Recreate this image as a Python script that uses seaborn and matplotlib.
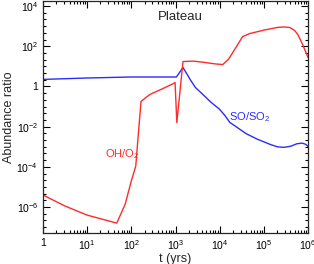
import numpy as np
import pandas as pd
import matplotlib
matplotlib.use("Agg")
import matplotlib.pyplot as plt
import matplotlib.ticker as mticker
import seaborn as sns

# SO/SO2 (blue) : log10(t) and log10(ratio)
so_logt = [0.0, 1.0, 2.0, 2.6, 3.02, 3.17, 3.25, 3.33, 3.45, 3.62, 3.8, 4.0, 4.12, 4.23, 4.39,
           4.6, 4.85, 5.14, 5.3, 5.45, 5.6, 5.75, 5.87, 5.95, 6.0]
so_logv = [0.35, 0.42, 0.47, 0.47, 0.47, 0.94, 0.65, 0.35, -0.05, -0.4, -0.78, -1.14, -1.45, -1.79, -2.03,
           -2.35, -2.62, -2.88, -3.0, -3.03, -2.98, -2.85, -2.82, -2.88, -2.98]

# OH/O2 (red)
oh_logt = [0.0, 0.5, 1.0, 1.67, 1.86, 2.0, 2.10, 2.15, 2.22, 2.42, 2.7, 2.96, 2.99, 3.03, 3.17,
           3.4, 3.64, 3.9, 4.07, 4.2, 4.34, 4.52, 4.68, 5.0, 5.29, 5.45, 5.59, 5.7, 5.77, 5.88, 6.0]
oh_logv = [-5.4, -5.95, -6.4, -6.8, -5.86, -4.7, -3.97, -2.6, -0.74, -0.4, -0.12, 0.15, 0.2, -1.8, 1.24,
           1.26, 1.2, 1.12, 1.09, 1.35, 1.84, 2.48, 2.63, 2.8, 2.93, 2.96, 2.93, 2.78, 2.58, 2.08, 1.44]

so = pd.DataFrame({"t": 10.0 ** np.array(so_logt), "r": 10.0 ** np.array(so_logv)})
oh = pd.DataFrame({"t": 10.0 ** np.array(oh_logt), "r": 10.0 ** np.array(oh_logv)})

sns.set_style("ticks")
plt.rcParams["font.family"] = ["Liberation Sans", "DejaVu Sans"]
plt.rcParams["mathtext.fontset"] = "custom"
plt.rcParams["mathtext.rm"] = "Liberation Sans"
plt.rcParams["mathtext.it"] = "Liberation Sans"

fig = plt.figure(figsize=(3.14, 2.64), dpi=100)
ax = fig.add_axes([43/314, 1 - 233/264, (308-43)/314, (233-1)/264])

sns.lineplot(data=so, x="t", y="r", ax=ax, color="#2b2bff", lw=1.0, sort=False, estimator=None)
sns.lineplot(data=oh, x="t", y="r", ax=ax, color="#ff2b2b", lw=1.0, sort=False, estimator=None)

ax.set_xscale("log")
ax.set_yscale("log")
ax.set_xlim(1, 1e6)
ax.set_ylim(10 ** -7.29, 10 ** 4.25)

xt = [1, 1e1, 1e2, 1e3, 1e4, 1e5, 1e6]
xl = ["1", "10$^1$", "10$^2$", "10$^3$", "10$^4$", "10$^5$", "10$^6$"]
yt = [1e-6, 1e-4, 1e-2, 1, 1e2, 1e4]
yl = ["10$^{-6}$", "10$^{-4}$", "10$^{-2}$", "1", "10$^2$", "10$^4$"]
ax.xaxis.set_major_locator(mticker.FixedLocator(xt))
ax.set_xticklabels(xl)
ax.xaxis.set_minor_locator(mticker.LogLocator(base=10, subs=np.arange(2, 10)))
ax.xaxis.set_minor_formatter(mticker.NullFormatter())
ax.yaxis.set_major_locator(mticker.FixedLocator(yt))
ax.set_yticklabels(yl)
ax.yaxis.set_minor_locator(mticker.FixedLocator([10 ** (k / 3.0) for k in range(-22, 13) if k % 6 != 0]))
ax.yaxis.set_minor_formatter(mticker.NullFormatter())

ax.tick_params(which="both", direction="in", top=True, right=True, labelsize=7.5, width=0.8, colors="black")
ax.tick_params(which="major", length=5)
ax.tick_params(which="minor", length=2.5)
for s in ax.spines.values():
    s.set_linewidth(0.9)

ax.set_xlabel("t (yrs)", fontsize=9, labelpad=1)
ax.set_ylabel("Abundance ratio", fontsize=9, labelpad=1)

ax.text(0.52, 0.93, "Plateau", transform=ax.transAxes, fontsize=9.5, ha="center", va="center")
ax.text(0.778, 0.5, "SO/SO$_2$", transform=ax.transAxes, fontsize=8, ha="center", va="center", color="#2b2bff")
ax.text(0.3, 0.34, "OH/O$_2$", transform=ax.transAxes, fontsize=8, ha="center", va="center", color="#ff2b2b")

fig.savefig("out.png", dpi=100)
